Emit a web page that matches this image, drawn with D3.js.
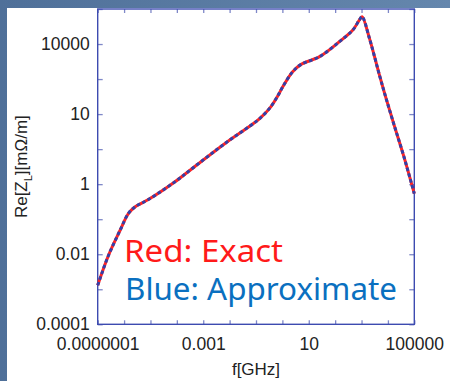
<!DOCTYPE html>
<html>
<head>
<meta charset="utf-8">
<script src="https://cdn.jsdelivr.net/npm/d3@7"></script>
<style>
  html, body { margin: 0; padding: 0; background: #55779e; }
  svg { display: block; }
</style>
</head>
<body>
<svg id="chart" width="450" height="381"></svg>
<script>
// Frequency samples (GHz) and real part of longitudinal impedance (mOhm/m)
const freqGHz = [1e-7, 2.51e-7, 6.92e-7, 1.45e-6, 2.57e-6, 8.32e-6, 8.51e-5, 4.17e-4,
  7.76e-3, 5.89e-2, 0.141, 0.339, 0.692, 1.035, 2.45, 5.13, 25.7, 145, 468, 832,
  1047, 1995, 4786, 8511, 16982, 39811, 1e5];
const exactZ = [1.30e-3, 8.91e-3, 4.68e-2, 0.145, 0.224, 0.363, 1.17, 2.95,
  15.8, 45.7, 75.9, 151, 347, 603, 1620, 2630, 4370, 11700, 25100, 49000,
  60300, 14500, 1290, 282, 50.1, 6.31, 0.537];
const approxZ = [1.30e-3, 8.91e-3, 4.68e-2, 0.145, 0.224, 0.363, 1.17, 2.95,
  15.8, 45.7, 75.9, 151, 347, 603, 1620, 2630, 4370, 11700, 25100, 49000,
  60300, 14500, 1290, 282, 50.1, 6.31, 0.537];

const xTickValues = [1e-7, 1e-6, 1e-5, 1e-4, 1e-3, 1e-2, 1e-1, 1, 10, 100, 1e3, 1e4, 1e5];
const xLabelValues = [1e-7, 1e-3, 10, 1e5];
const xLabelTexts = ["0.0000001", "0.001", "10", "100000"];
const yTickValues = [1e-4, 1e-3, 1e-2, 1e-1, 1, 10, 100, 1e3, 1e4, 1e5];
const yLabelValues = [1e-4, 1e-2, 1, 100, 1e4];
const yLabelTexts = ["0.0001", "0.01", "1", "10", "10000"];

const svg = d3.select("#chart");

// slide background and white panel
const defs = svg.append("defs");
const grad = defs.append("linearGradient").attr("id", "bg").attr("x1", 0).attr("y1", 0).attr("x2", 1).attr("y2", 0);
grad.append("stop").attr("offset", "0%").attr("stop-color", "#4f7099");
grad.append("stop").attr("offset", "100%").attr("stop-color", "#6587ad");
svg.append("rect").attr("width", 450).attr("height", 381).attr("fill", "url(#bg)");
svg.append("rect").attr("x", 7).attr("y", 8).attr("width", 443).attr("height", 373).attr("fill", "#ffffff");

const plotLeft = 97.7, plotRight = 414.3, plotTop = 9, plotBottom = 324.3;
const x = d3.scaleLog().domain([1e-7, 1e5]).range([plotLeft, plotRight]);
const y = d3.scaleLog().domain([1e-4, 1e5]).range([plotBottom, plotTop]);

const tickFont = "'Liberation Sans', Arial, sans-serif";
const axisColor = "#3d4bb0";
const tickColor = "#7f88c8";

function labelFor(values, texts) {
  return d => {
    const i = values.findIndex(v => Math.abs(Math.log10(v) - Math.log10(d)) < 1e-6);
    return i >= 0 ? texts[i] : "";
  };
}

const xAxis = svg.append("g").attr("transform", `translate(0,${plotBottom})`)
  .call(d3.axisBottom(x).tickValues(xTickValues).tickFormat(labelFor(xLabelValues, xLabelTexts))
    .tickSizeInner(-4).tickSizeOuter(0));
const xAxisTop = svg.append("g").attr("transform", `translate(0,${plotTop})`)
  .call(d3.axisTop(x).tickValues(xTickValues).tickFormat("").tickSizeInner(-4).tickSizeOuter(0));
const yAxis = svg.append("g").attr("transform", `translate(${plotLeft},0)`)
  .call(d3.axisLeft(y).tickValues(yTickValues).tickFormat(labelFor(yLabelValues, yLabelTexts))
    .tickSizeInner(-5).tickSizeOuter(0).tickPadding(8));
const yAxisRight = svg.append("g").attr("transform", `translate(${plotRight},0)`)
  .call(d3.axisRight(y).tickValues(yTickValues).tickFormat("").tickSizeInner(-5).tickSizeOuter(0));

[xAxis, xAxisTop, yAxis, yAxisRight].forEach(g => {
  g.select(".domain").remove();
  g.selectAll(".tick line").attr("stroke", tickColor).attr("stroke-width", 1.3);
  g.selectAll(".tick text").attr("font-family", tickFont).attr("font-size", 17.5).attr("fill", "#222");
});
xAxis.selectAll(".tick text").attr("y", 26).attr("dy", 0);
yAxis.selectAll(".tick text").attr("dy", "0.3em");

// plot frame
svg.append("rect").attr("x", plotLeft).attr("y", plotTop).attr("width", plotRight - plotLeft).attr("height", plotBottom - plotTop)
  .attr("fill", "none").attr("stroke", axisColor).attr("stroke-width", 1.4);

// axis titles
svg.append("text").attr("x", (plotLeft + plotRight) / 2).attr("y", 375)
  .attr("text-anchor", "middle").attr("font-family", tickFont).attr("font-size", 17).attr("fill", "#222")
  .text("f[GHz]");
const yt = svg.append("text").attr("transform", `translate(27,${(plotTop + plotBottom) / 2}) rotate(-90)`)
  .attr("text-anchor", "middle").attr("font-family", tickFont).attr("font-size", 17).attr("fill", "#222");
yt.append("tspan").text("Re[Z");
yt.append("tspan").attr("font-size", 11).attr("dy", 5).text("L");
yt.append("tspan").attr("dy", -5).text("][mΩ/m]");

// curves: exact (solid red) with approximation (dashed blue) on top
const plot = svg.append("g");
const line = (vals) => d3.line().x((d, i) => x(freqGHz[i])).y(d => y(d))
  .curve(d3.curveCatmullRom.alpha(0.5))(vals);
plot.append("path").attr("d", line(exactZ)).attr("fill", "none")
  .attr("stroke", "#ff2424").attr("stroke-width", 3);
plot.append("path").attr("d", line(approxZ)).attr("fill", "none")
  .attr("stroke", "#3340a8").attr("stroke-width", 3).attr("stroke-dasharray", "3.5,2.5");

// legend text
const legendFont = "'Comic Sans MS', 'Noto Sans', sans-serif";
svg.append("text").attr("x", 124).attr("y", 261.5).attr("font-family", legendFont).attr("font-size", 31)
  .attr("fill", "#ff1a1a").attr("textLength", 159).attr("lengthAdjust", "spacingAndGlyphs").text("Red: Exact");
svg.append("text").attr("x", 125).attr("y", 300).attr("font-family", legendFont).attr("font-size", 31)
  .attr("fill", "#0a70c0").attr("textLength", 272).attr("lengthAdjust", "spacingAndGlyphs").text("Blue: Approximate");
</script>
</body>
</html>
